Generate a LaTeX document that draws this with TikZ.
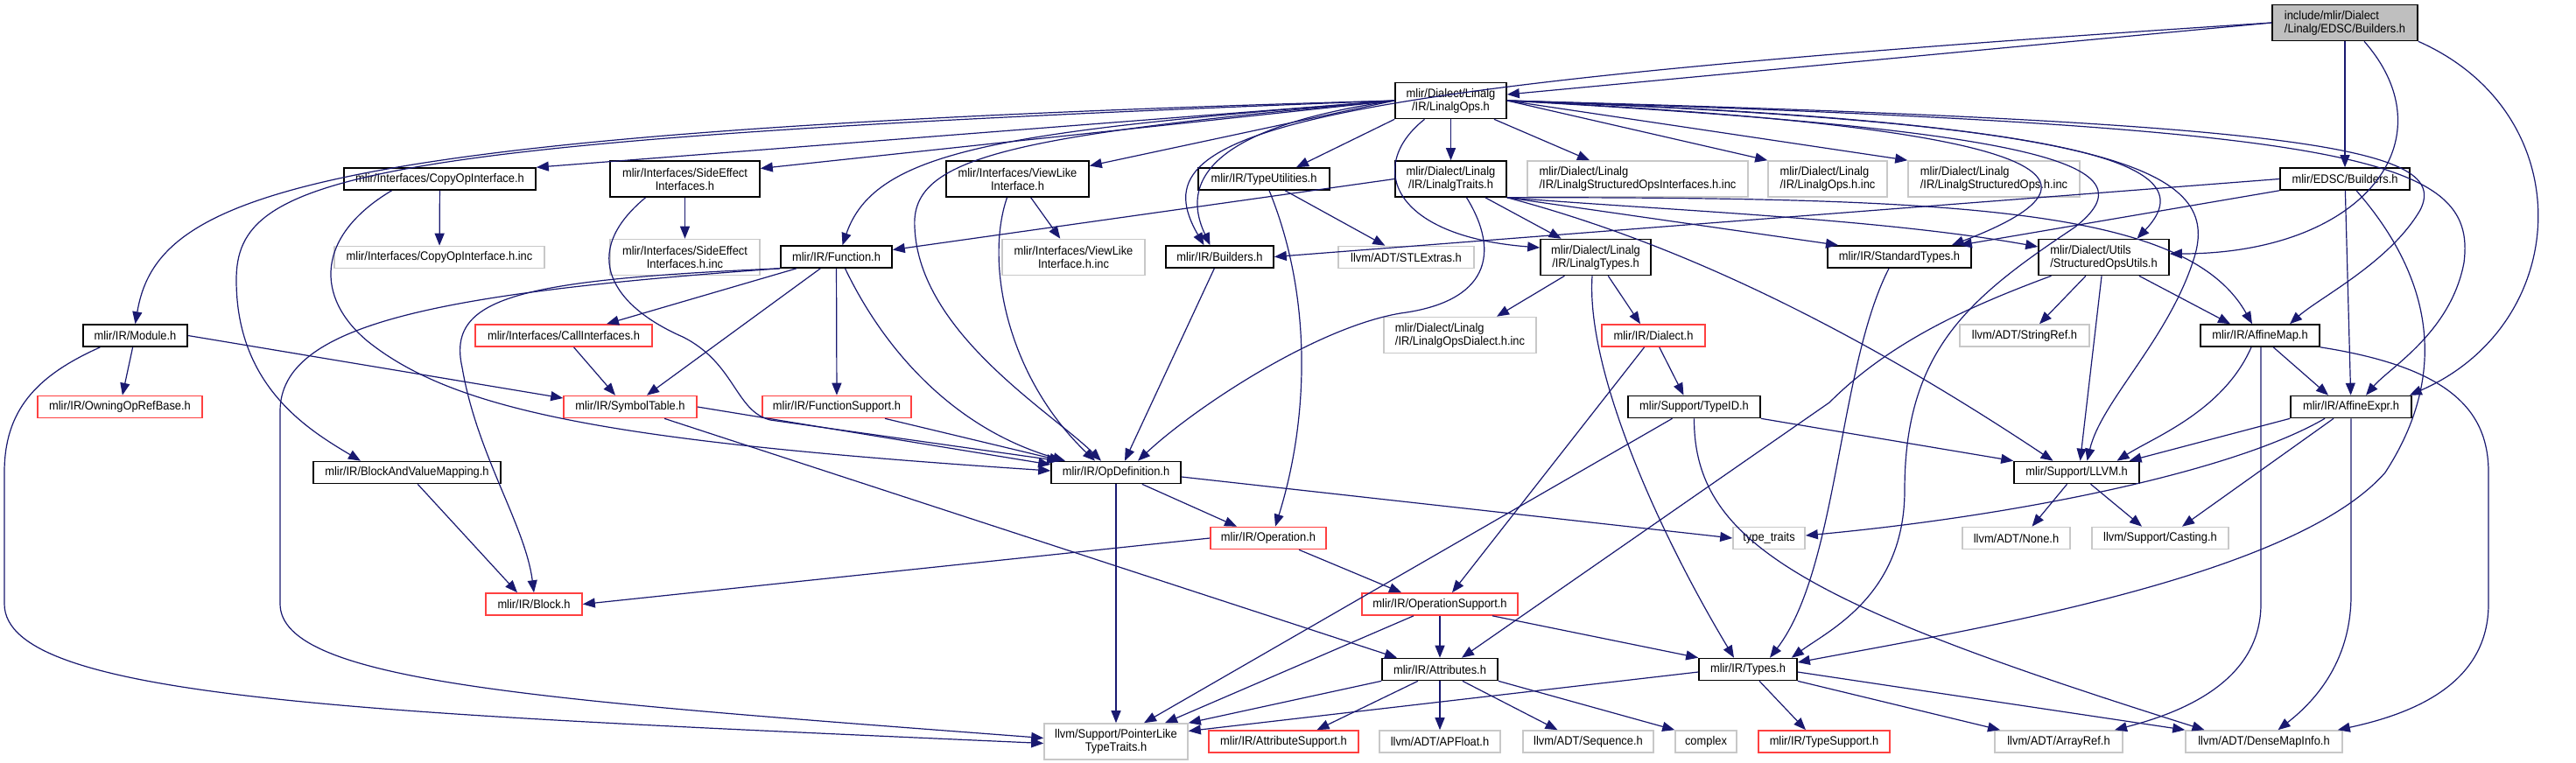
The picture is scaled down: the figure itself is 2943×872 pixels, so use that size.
\documentclass[tikz,border=0pt]{standalone}
\usepackage{fontspec}
\newfontfamily\graphfont{Liberation Sans}[FakeStretch=0.92]
\usetikzlibrary{arrows.meta}
\definecolor{edgeblue}{RGB}{25,25,112}
\definecolor{rootgray}{RGB}{191,191,191}
\definecolor{extgray}{RGB}{200,200,200}
\definecolor{truncred}{RGB}{255,64,64}

\begin{document}
\begin{tikzpicture}[x=1pt,y=-1pt,
    file/.style={rectangle,draw=black,line width=1.6pt,
      font=\graphfont\fontsize{14}{15}\selectfont,
      inner xsep=3pt,inner ysep=2pt,minimum height=25pt,align=center},
    two/.style={minimum height=41pt},
    ext/.style={file,draw=extgray},
    trunc/.style={file,draw=truncred},
    dep/.style={draw=edgeblue,line width=1.2pt,
      -{Triangle[length=14pt,width=11pt]}}]
  \fill[white] (0,0) rectangle (2943,872);
  \useasboundingbox (0,0) rectangle (2943,872);
  %% row 0 and 1
  \node[file,fill=rootgray,two,minimum width=166pt,align=left] (root) at (2679,26)
    {include/mlir/Dialect\\/Linalg/EDSC/Builders.h};
  \node[file,two,minimum width=127pt] (lops) at (1657.5,115)
    {mlir/Dialect/Linalg\\/IR/LinalgOps.h};
  %% row 2
  \node[file,minimum width=219pt] (copy) at (502.5,204.5) {mlir/Interfaces/CopyOpInterface.h};
  \node[file,two,minimum width=171pt] (side) at (782.5,204.5)
    {mlir/Interfaces/SideEffect\\Interfaces.h};
  \node[file,two,minimum width=163pt] (view) at (1162.5,204.5)
    {mlir/Interfaces/ViewLike\\Interface.h};
  \node[file,minimum width=150pt] (tyutil) at (1444,204.5) {mlir/IR/TypeUtilities.h};
  \node[file,two,minimum width=127pt] (ltraits) at (1657.5,204.5)
    {mlir/Dialect/Linalg\\/IR/LinalgTraits.h};
  \node[ext,two,minimum width=252pt,align=left] (lsoiinc) at (1871,204.5)
    {mlir/Dialect/Linalg\\/IR/LinalgStructuredOpsInterfaces.h.inc};
  \node[ext,two,minimum width=136pt,align=left] (lopsinc) at (2088,204.5)
    {mlir/Dialect/Linalg\\/IR/LinalgOps.h.inc};
  \node[ext,two,minimum width=196pt,align=left] (lsoinc) at (2278,204.5)
    {mlir/Dialect/Linalg\\/IR/LinalgStructuredOps.h.inc};
  \node[file,minimum width=148pt] (edsc) at (2679,204.5) {mlir/EDSC/Builders.h};
  %% row 3
  \node[ext,minimum width=240pt] (copyinc) at (502,294) {mlir/Interfaces/CopyOpInterface.h.inc};
  \node[ext,two,minimum width=171pt] (sideinc) at (782.5,294)
    {mlir/Interfaces/SideEffect\\Interfaces.h.inc};
  \node[file,minimum width=127pt] (func) at (955.5,293.5) {mlir/IR/Function.h};
  \node[ext,two,minimum width=163pt] (viewinc) at (1226.5,294)
    {mlir/Interfaces/ViewLike\\Interface.h.inc};
  \node[file,minimum width=123pt] (irbuild) at (1393.5,293.5) {mlir/IR/Builders.h};
  \node[ext,minimum width=155pt] (stl) at (1606.5,294) {llvm/ADT/STLExtras.h};
  \node[file,two,minimum width=126pt] (ltypes) at (1823,294)
    {mlir/Dialect/Linalg\\/IR/LinalgTypes.h};
  \node[file,minimum width=164pt] (stdtypes) at (2170,293.5) {mlir/IR/StandardTypes.h};
  \node[file,two,minimum width=149pt,align=left] (souti) at (2403.5,294)
    {mlir/Dialect/Utils\\/StructuredOpsUtils.h};
  %% row 4
  \node[file,minimum width=119pt] (module) at (154.5,383.5) {mlir/IR/Module.h};
  \node[trunc,minimum width=202pt] (callif) at (644,383.5) {mlir/Interfaces/CallInterfaces.h};
  \node[ext,two,minimum width=174pt,align=left] (dialinc) at (1668,383)
    {mlir/Dialect/Linalg\\/IR/LinalgOpsDialect.h.inc};
  \node[trunc,minimum width=118pt] (dialect) at (1889,383.5) {mlir/IR/Dialect.h};
  \node[ext,minimum width=148pt] (strref) at (2313,383.5) {llvm/ADT/StringRef.h};
  \node[file,minimum width=136pt] (amap) at (2582,383.5) {mlir/IR/AffineMap.h};
  %% row 5
  \node[trunc,minimum width=188pt] (owning) at (137,465) {mlir/IR/OwningOpRefBase.h};
  \node[trunc,minimum width=152pt] (symtab) at (720,465) {mlir/IR/SymbolTable.h};
  \node[trunc,minimum width=170pt] (funcsup) at (956,465) {mlir/IR/FunctionSupport.h};
  \node[file,minimum width=151pt] (typeid) at (1935.5,465) {mlir/Support/TypeID.h};
  \node[file,minimum width=138pt] (aexpr) at (2686,465) {mlir/IR/AffineExpr.h};
  %% row 6
  \node[file,minimum width=214pt] (bvm) at (465,540) {mlir/IR/BlockAndValueMapping.h};
  \node[file,minimum width=148pt] (opdef) at (1275,540) {mlir/IR/OpDefinition.h};
  \node[file,minimum width=143pt] (llvm) at (2372.5,540) {mlir/Support/LLVM.h};
  %% row 7
  \node[trunc,minimum width=132pt] (oper) at (1449,615) {mlir/IR/Operation.h};
  \node[ext,minimum width=82pt] (tytraits) at (2021,615) {type\_traits};
  \node[ext,minimum width=123pt] (none) at (2303.5,615) {llvm/ADT/None.h};
  \node[ext,minimum width=156pt] (casting) at (2468,615) {llvm/Support/Casting.h};
  %% row 8 and 9
  \node[trunc,minimum width=110pt] (block) at (610,690.5) {mlir/IR/Block.h};
  \node[trunc,minimum width=178pt] (opsup) at (1645,690.5) {mlir/IR/OperationSupport.h};
  \node[file,minimum width=132pt] (attrs) at (1645,765) {mlir/IR/Attributes.h};
  \node[file,minimum width=112pt] (types) at (1997,765) {mlir/IR/Types.h};
  %% bottom row
  \node[ext,two,minimum width=164pt] (ptrlike) at (1275,847.5)
    {llvm/Support/PointerLike\\TypeTraits.h};
  \node[trunc,minimum width=171pt] (attrsup) at (1466.5,847.5) {mlir/IR/AttributeSupport.h};
  \node[ext,minimum width=138pt] (apfloat) at (1645,847.5) {llvm/ADT/APFloat.h};
  \node[ext,minimum width=149pt] (seq) at (1814.5,847.5) {llvm/ADT/Sequence.h};
  \node[ext,minimum width=70pt] (complex) at (1949,847.5) {complex};
  \node[trunc,minimum width=150pt] (tysup) at (2084,847.5) {mlir/IR/TypeSupport.h};
  \node[ext,minimum width=146pt] (arrref) at (2352,847.5) {llvm/ADT/ArrayRef.h};
  \node[ext,minimum width=179pt] (dmi) at (2586.5,847.5) {llvm/ADT/DenseMapInfo.h};

  %% root file
  \draw[dep] (root.west) -- ([yshift=7pt]lops.east);
  \draw[dep] (root.west) .. controls (1450,100) and (1300,150) .. ([xshift=-18pt]irbuild.north);
  \draw[dep] (root) -- (edsc);
  \draw[dep] ([xshift=22pt]root.south) .. controls (2800,160) and (2700,290) .. ([yshift=4pt]souti.east);
  \draw[dep] (root.south east) .. controls (2950,130) and (2940,370) .. ([xshift=-3pt]aexpr.north east);
  %% LinalgOps.h
  \draw[dep] (lops.west) .. controls (350,150) and (180,220) .. (module.north);
  \draw[dep] (lops.west) .. controls (400,160) and (270,200) .. (270,320)
    .. controls (270,440) and (350,490) .. ([xshift=-53pt]bvm.north);
  \draw[dep] (lops.west) -- (copy.north east);
  \draw[dep] (lops.west) -- ([yshift=12pt]side.east);
  \draw[dep] (lops.west) .. controls (1150,150) and (1000,170) .. ([xshift=7pt]func.north);
  \draw[dep] (lops.west) .. controls (1150,155) and (1040,180) .. (1045,260)
    .. controls (1050,380) and (1200,470) .. ([xshift=-17pt]opdef.north);
  \draw[dep] (lops.west) -- ([yshift=15pt]view.east);
  \draw[dep] (lops.west) .. controls (1420,140) and (1340,190) .. ([xshift=-11pt]irbuild.north);
  \draw[dep] (lops.south west) -- ([xshift=37pt]tyutil.north);
  \draw[dep] (lops) -- (ltraits);
  \draw[dep] ([xshift=-30pt]lops.south) .. controls (1560,190) and (1590,270) .. ([yshift=11pt]ltypes.west);
  \draw[dep] (lops) -- ([xshift=-55pt]lsoiinc.north);
  \draw[dep] (lops.east) -- (lopsinc.north west);
  \draw[dep] (lops.east) -- (lsoinc.north west);
  \draw[dep] (lops.east) .. controls (2330,145) and (2440,200) .. ([xshift=-23pt]stdtypes.north east);
  \draw[dep] (lops.east) .. controls (2350,150) and (2460,190) .. (2370,260)
    .. controls (2250,340) and (2176,400) .. (2176,560)
    .. controls (2176,680) and (2090,720) .. ([xshift=-7pt]types.north east);
  \draw[dep] (lops.east) .. controls (2400,140) and (2520,190) .. ([xshift=38pt]souti.north);
  \draw[dep] (lops.east) .. controls (2450,140) and (2540,200) .. (2505,300)
    .. controls (2475,390) and (2400,460) .. ([xshift=12pt]llvm.north);
  \draw[dep] (lops.east) .. controls (2650,140) and (2800,170) .. (2765,240)
    .. controls (2730,300) and (2650,340) .. ([xshift=34pt]amap.north);
  \draw[dep] (lops.east) .. controls (2700,145) and (2830,180) .. (2815,300)
    .. controls (2800,380) and (2730,420) .. ([xshift=17pt]aexpr.north);
  %% LinalgTraits.h
  \draw[dep] (ltraits.west) -- ([yshift=8pt]func.east);
  \draw[dep] (ltraits) -- (ltypes);
  \draw[dep] ([xshift=18pt]ltraits.south) .. controls (1715,290) and (1700,345) .. (1600,358)
    .. controls (1500,375) and (1360,470) .. ([xshift=25pt]opdef.north);
  \draw[dep] (ltraits.south east) -- ([xshift=-70pt]stdtypes.north);
  \draw[dep] (ltraits.south east) .. controls (1900,240) and (2150,250) .. ([yshift=12pt]souti.west);
  \draw[dep] (ltraits.south east) .. controls (2250,225) and (2500,240) .. ([xshift=-9pt]amap.north);
  \draw[dep] (ltraits.south east) .. controls (1850,260) and (2050,330) .. ([xshift=-27pt]llvm.north);
  %% EDSC/Builders.h
  \draw[dep] (edsc.west) -- (irbuild.east);
  \draw[dep] (edsc.south west) -- ([xshift=-14pt]stdtypes.north east);
  \draw[dep] (edsc) -- (aexpr);
  \draw[dep] ([xshift=13pt]edsc.south) .. controls (2790,330) and (2790,440) .. (2725,540)
    .. controls (2620,660) and (2250,720) .. ([yshift=8pt]types.east);
  %% Function.h
  \draw[dep] (func) -- ([xshift=49pt]callif.north);
  \draw[dep] (func) -- ([xshift=19pt]symtab.north);
  \draw[dep] (func) -- (funcsup);
  \draw[dep] ([xshift=10pt]func.south) .. controls (1010,400) and (1090,490) .. ([xshift=-58pt]opdef.north);
  \draw[dep] (func.south west) .. controls (590,320) and (510,340) .. (528,420)
    .. controls (545,520) and (600,600) .. (block.north);
  \draw[dep] (func.south west) .. controls (500,335) and (320,370) .. (320,470) -- (320,690)
    .. controls (320,780) and (620,800) .. ([yshift=4pt]ptrlike.west);
  %% Module.h
  \draw[dep] (module) -- (owning);
  \draw[dep] (module.east) -- ([yshift=10pt]symtab.west);
  \draw[dep] ([xshift=-40pt]module.south) .. controls (40,430) and (5,470) .. (5,540) -- (5,690)
    .. controls (5,800) and (420,815) .. ([yshift=-2pt]ptrlike.west);
  %% interfaces
  \draw[dep] (copy) -- (copyinc);
  \draw[dep] ([xshift=-55pt]copy.south) .. controls (360,270) and (360,340) .. (420,390)
    .. controls (520,470) and (700,505) .. ([yshift=2pt]opdef.west);
  \draw[dep] (side) -- (sideinc);
  \draw[dep] ([xshift=-45pt]side.south) .. controls (660,290) and (700,350) .. (780,385)
    .. controls (840,415) and (840,470) .. (880,480) -- ([xshift=-65pt]opdef.north);
  \draw[dep] (view) -- (viewinc);
  \draw[dep] ([xshift=-12pt]view.south) .. controls (1125,300) and (1150,430) .. ([xshift=-24pt]opdef.north);
  \draw[dep] (tyutil) -- (stl);
  \draw[dep] ([xshift=6pt]tyutil.south) .. controls (1500,340) and (1495,480) .. ([xshift=8pt]oper.north);
  \draw[dep] (irbuild) -- ([xshift=10pt]opdef.north);
  %% Linalg types and utils
  \draw[dep] (ltypes) -- ([xshift=42pt]dialinc.north);
  \draw[dep] (ltypes) -- ([xshift=-15pt]dialect.north);
  \draw[dep] ([xshift=-4pt]ltypes.south) .. controls (1812,420) and (1890,600) .. ([xshift=-16pt]types.north);
  \draw[dep] ([xshift=-12pt]stdtypes.south) .. controls (2100,420) and (2100,650) .. ([xshift=25pt]types.north);
  \draw[dep] (souti) -- ([xshift=17pt]strref.north);
  \draw[dep] (souti) -- ([xshift=-34pt]amap.north);
  \draw[dep] (souti) -- ([xshift=4pt]llvm.north);
  \draw[dep] ([xshift=-60pt]souti.south) .. controls (2250,350) and (2160,390) .. (2090,460)
    -- ([xshift=25pt]attrs.north);
  %% Dialect.h and TypeID.h
  \draw[dep] (dialect) -- ([xshift=14pt]opsup.north);
  \draw[dep] (dialect) -- ([xshift=-12pt]typeid.north);
  \draw[dep] (typeid.south east) -- (llvm.north west);
  \draw[dep] ([xshift=-25pt]typeid.south) -- ([xshift=32pt]ptrlike.north);
  \draw[dep] (typeid.south) .. controls (1935,620) and (2060,690) .. ([xshift=-68pt]dmi.north);
  %% AffineMap.h and AffineExpr.h
  \draw[dep] (amap) -- ([xshift=-26pt]aexpr.north);
  \draw[dep] ([xshift=-10pt]amap.south) .. controls (2540,470) and (2460,500) .. ([xshift=46pt]llvm.north);
  \draw[dep] ([xshift=1pt]amap.south) -- (2583,690) .. controls (2583,780) and (2490,815) .. ([xshift=64pt]arrref.north);
  \draw[dep] (amap.south east) .. controls (2800,420) and (2843,470) .. (2843,540) -- (2843,690)
    .. controls (2843,780) and (2760,815) .. ([xshift=-6pt]dmi.north east);
  \draw[dep] (aexpr.south west) -- ([xshift=60pt]llvm.north);
  \draw[dep] ([xshift=-30pt]aexpr.south) .. controls (2550,540) and (2300,590) .. ([yshift=3pt]tytraits.east);
  \draw[dep] ([xshift=-20pt]aexpr.south) -- ([xshift=25pt]casting.north);
  \draw[dep] (aexpr.south) -- (2686,680) .. controls (2686,760) and (2640,805) .. ([xshift=16pt]dmi.north);
  %% LLVM.h
  \draw[dep] (llvm) -- ([xshift=18pt]none.north);
  \draw[dep] (llvm) -- ([xshift=-21pt]casting.north);
  %% OpDefinition.h and Operation.h
  \draw[dep] (opdef) -- ([xshift=-36pt]oper.north);
  \draw[dep] ([yshift=-5pt]opdef.east) -- (tytraits.west);
  \draw[dep] (opdef) -- (ptrlike);
  \draw[dep] (oper.west) -- (block.east);
  \draw[dep] ([xshift=35pt]oper.south) -- ([xshift=-44pt]opsup.north);
  %% SymbolTable.h and friends
  \draw[dep] (symtab.east) -- ([yshift=9pt]opdef.west);
  \draw[dep] ([xshift=39pt]symtab.south) -- ([xshift=-49pt]attrs.north);
  \draw[dep] ([xshift=55pt]funcsup.south) -- ([xshift=-62pt]opdef.north);
  \draw[dep] (callif) -- ([xshift=-17pt]symtab.north);
  \draw[dep] (bvm) -- ([xshift=-19pt]block.north);
  %% OperationSupport.h
  \draw[dep] (opsup) -- (attrs);
  \draw[dep] ([xshift=60pt]opsup.south) -- (types.north west);
  \draw[dep] ([xshift=-30pt]opsup.south) -- ([xshift=56pt]ptrlike.north);
  %% Attributes.h
  \draw[dep] ([xshift=-25pt]attrs.south) -- ([xshift=38pt]attrsup.north);
  \draw[dep] (attrs) -- (apfloat);
  \draw[dep] (attrs) -- ([xshift=-35pt]seq.north);
  \draw[dep] (attrs.south east) -- (complex.north west);
  \draw[dep] (attrs.south west) -- (ptrlike.north east);
  %% Types.h
  \draw[dep] ([xshift=13pt]types.south) -- ([xshift=-21pt]tysup.north);
  \draw[dep] ([yshift=-3pt]types.west) -- ([yshift=12pt]ptrlike.east);
  \draw[dep] (types.south east) -- ([xshift=-67pt]arrref.north);
  \draw[dep] ([yshift=-3pt]types.east) -- (dmi.north west);
\end{tikzpicture}
\end{document}
